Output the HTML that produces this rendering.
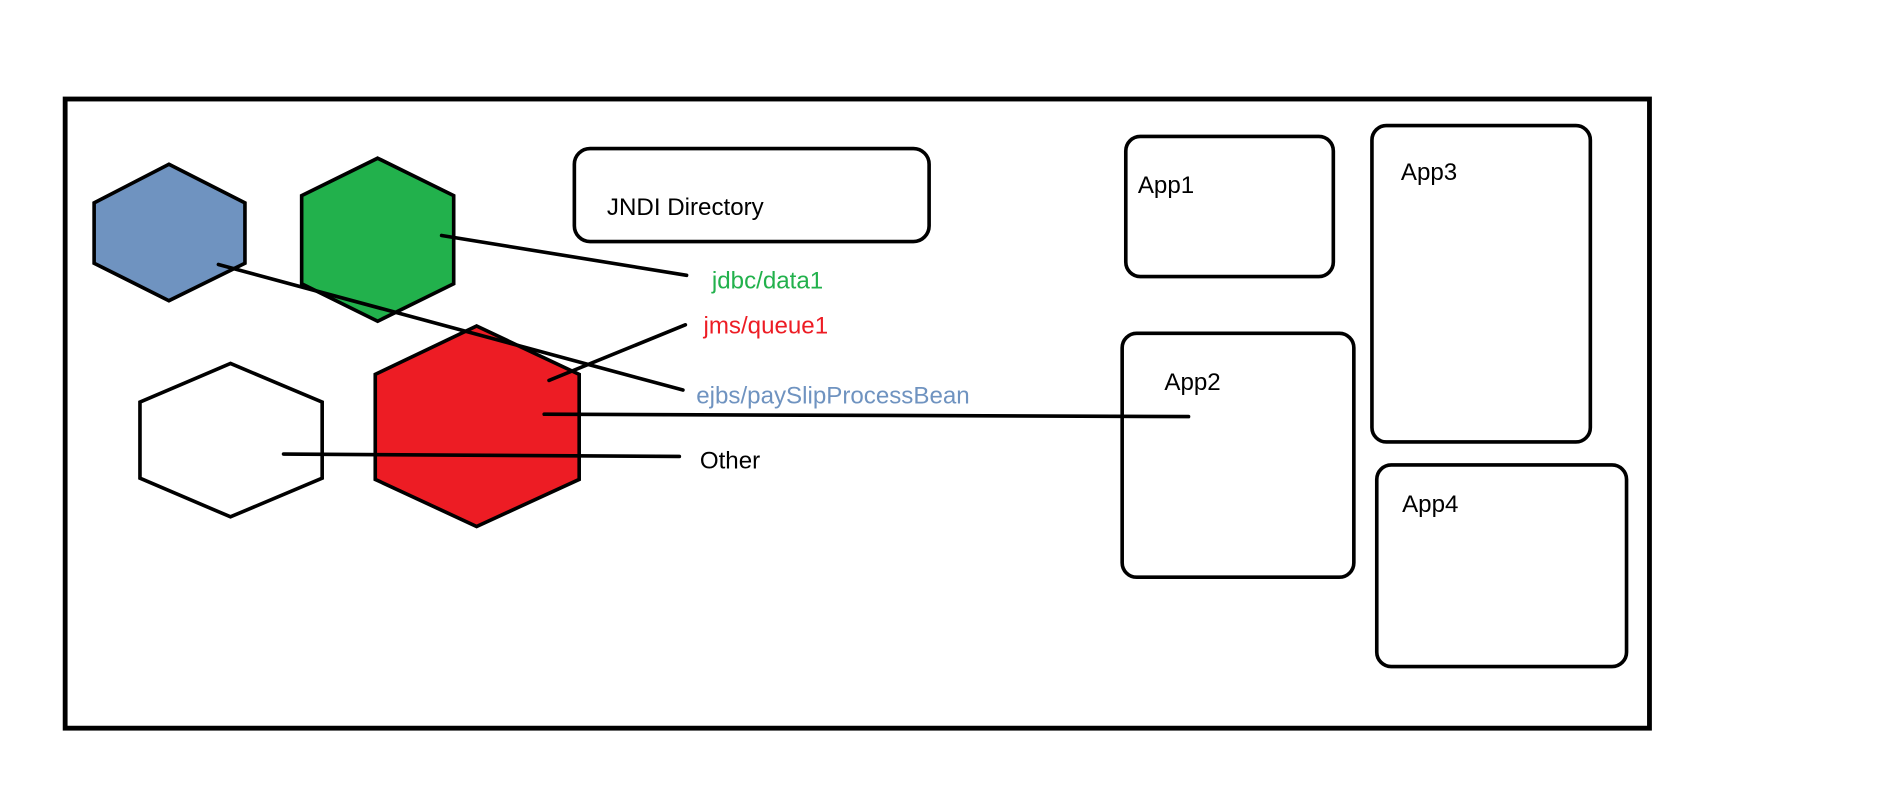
<!DOCTYPE html>
<html><head><meta charset="utf-8"><style>html,body{margin:0;padding:0;background:#fff;}svg{display:block}</style></head>
<body>
<svg width="1892" height="797" viewBox="0 0 1568 660" preserveAspectRatio="none" xmlns="http://www.w3.org/2000/svg" font-family="'Liberation Sans', 'DejaVu Sans', sans-serif" font-size="20">
<rect x="0" y="0" width="1568" height="660" fill="#fff"/>
<rect x="54" y="82" width="1313" height="521" fill="none" stroke="#000" stroke-width="4"/>
<polygon points="140,136 203,168 203,218 140,249 78,218 78,168" fill="#6f93c0" stroke="#000" stroke-width="3"/>
<polygon points="313,131 376,162 376,235 313,266 250,235 250,162" fill="#22b14c" stroke="#000" stroke-width="3"/>
<polygon points="191,301 267,333 267,396 191,428 116,396 116,333" fill="#fff" stroke="#000" stroke-width="3"/>
<polygon points="395,270 480,310 480,397 395,436 311,397 311,310" fill="#ed1c24" stroke="#000" stroke-width="3"/>
<rect x="476" y="123" width="294" height="77" rx="13" fill="none" stroke="#000" stroke-width="3"/>
<text x="503" y="178" fill="#000">JNDI Directory</text>
<g stroke="#000" stroke-width="3" stroke-linecap="round">
<line x1="366" y1="195" x2="569" y2="228"/>
<line x1="181" y1="219" x2="566" y2="323"/>
<line x1="455" y1="315" x2="568" y2="269"/>
<line x1="451" y1="343" x2="985" y2="345"/>
<line x1="235" y1="376" x2="563" y2="378"/>
</g>
<text x="590" y="239" fill="#22b14c">jdbc/data1</text>
<text x="583" y="276" fill="#ed1c24">jms/queue1</text>
<text x="577" y="334" fill="#6f93c0">ejbs/paySlipProcessBean</text>
<text x="580" y="388" fill="#000">Other</text>
<g fill="none" stroke="#000" stroke-width="3">
<rect x="933" y="113" width="172" height="116" rx="12"/>
<rect x="1137" y="104" width="181" height="262" rx="12"/>
<rect x="930" y="276" width="192" height="202" rx="12"/>
<rect x="1141" y="385" width="207" height="167" rx="12"/>
</g>
<text x="943" y="160" fill="#000">App1</text>
<text x="1161" y="149" fill="#000">App3</text>
<text x="965" y="323" fill="#000">App2</text>
<text x="1162" y="424" fill="#000">App4</text>
</svg>
</body></html>
